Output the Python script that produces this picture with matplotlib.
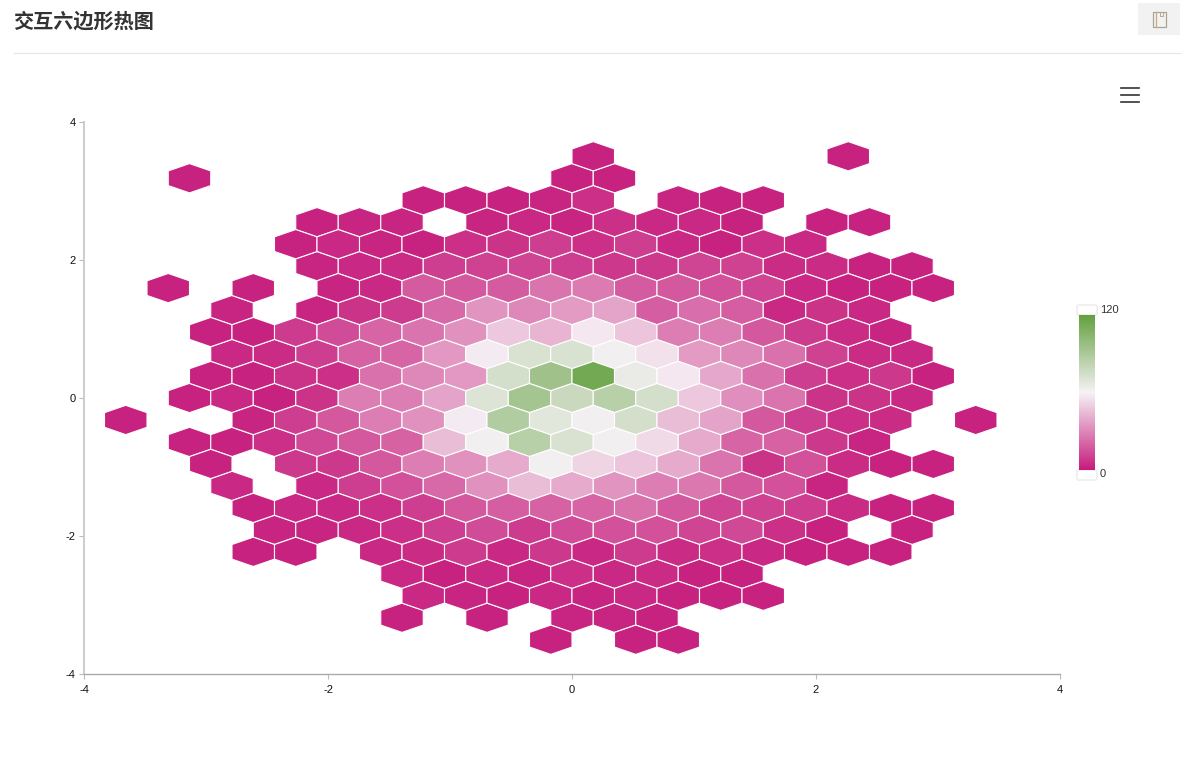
import matplotlib
matplotlib.use("Agg")
import matplotlib.pyplot as plt
from matplotlib.colors import LinearSegmentedColormap, Normalize
from matplotlib.patches import Rectangle, FancyBboxPatch
from matplotlib.lines import Line2D

W, H = 1203, 783

# row number counted up from y=0, first column of that row, then the bin counts (None = empty bin)
row_numbers = [11, 10, 9, 8, 7, 6, 5, 4, 3, 2, 1, 0, -1, -2, -3, -4, -5, -6, -7, -8, -9, -10, -11]
row_first_col = [0, -9, -4, -6, -7, -6, -10, -8, -9, -8, -9, -9, -11, -9, -9, -8, -8, -7, -8, -4, -4, -4, -1]
row_counts = [
    [2, None, None, None, None, None, 2],
    [2, None, None, None, None, None, None, None, None, 2, 2],
    [2, 2, 2, 3, 6, None, 3, 2, 2],
    [2, 3, 3, None, 3, 4, 3, 6, 4, 4, 2, None, 2, 2],
    [2, 4, 3, 2, 6, 7, 10, 6, 10, 4, 2, 6, 4],
    [3, 4, 5, 10, 11, 12, 10, 8, 8, 12, 11, 5, 5, 2, 2],
    [2, None, 2, None, 3, 4, 18, 17, 18, 25, 27, 18, 17, 15, 12, 4, 2, 2, 2],
    [3, None, 3, 7, 9, 22, 34, 30, 36, 38, 19, 23, 19, 4, 7, 4],
    [2, 2, 9, 14, 21, 25, 33, 48, 43, 57, 47, 28, 28, 17, 9, 5, 3],
    [4, 5, 10, 20, 21, 35, 58, 72, 72, 62, 55, 36, 30, 24, 11, 5, 4],
    [2, 2, 7, 6, 24, 30, 35, 74, 95, 113, 65, 57, 39, 24, 10, 6, 8, 2],
    [2, 4, 2, 7, 28, 28, 38, 70, 93, 78, 85, 74, 48, 32, 25, 7, 7, 4],
    [2, None, None, 3, 10, 17, 28, 33, 58, 88, 68, 62, 74, 45, 38, 17, 10, 6, 5, None, 2],
    [2, 2, 6, 13, 17, 20, 45, 62, 85, 72, 62, 53, 40, 21, 20, 8, 3],
    [2, None, 8, 8, 17, 28, 33, 40, 62, 52, 47, 40, 25, 7, 15, 5, 2, 2],
    [4, None, 4, 10, 15, 22, 33, 45, 40, 34, 28, 26, 17, 15, 3],
    [2, 4, 4, 6, 10, 17, 19, 20, 21, 24, 17, 12, 11, 10, 5, 2, 2],
    [3, 3, 4, 6, 10, 14, 9, 14, 15, 15, 12, 13, 6, 2, None, 2],
    [2, 2, None, 4, 5, 9, 4, 8, 4, 9, 5, 6, 4, 2, 2, 2],
    [4, 2, 4, 3, 6, 4, 5, 2, 2],
    [4, 3, 2, 4, 3, 4, 2, 2, 2],
    [2, None, 2, None, 3, 3, 2],
    [2, None, 2, 2],
]
x_ticks = [-4, -2, 0, 2, 4]
y_ticks = [-4, -2, 0, 2, 4]
count_range = [0, 120]

# bin size in data units
step_x = 42.5 / 122
step_y = 43.95 / 69

hex_x, hex_y, hex_c = [], [], []
for r, first, counts in zip(row_numbers, row_first_col, row_counts):
    for i, c in enumerate(counts):
        if c is None:
            continue
        hex_x.append((first + i + (0.5 if r % 2 else 0)) * step_x)
        hex_y.append(r * step_y / 2)
        hex_c.append(c)

cmap = LinearSegmentedColormap.from_list("pink_green", ["#c61b7c", "#f6f2f5", "#63a03e"])
norm = Normalize(count_range[0], count_range[1])


def px_rect(left, top, right, bottom):
    return [left / W, 1 - bottom / H, (right - left) / W, (bottom - top) / H]


fig = plt.figure(figsize=(W / 100, H / 100), dpi=100, facecolor="white")

# page parts around the chart, in pixel coordinates
page = fig.add_axes([0, 0, 1, 1])
page.set_xlim(0, W)
page.set_ylim(H, 0)
page.axis("off")
page.text(13.5, 21, "交互六边形热图", family=["Noto Sans CJK SC", "DejaVu Sans"], fontweight="bold",
          fontsize=14.5, color="#333333", va="center", ha="left")
page.add_line(Line2D([14, 1180], [52.5, 52.5], color="#e8e6dc", lw=0.8))
page.add_patch(Rectangle((1138, 3), 42, 32, fc="#f2f2f2", ec="none"))
page.add_patch(Rectangle((1153, 11.5), 13, 15.5, fc="none", ec="#a9a596", lw=0.9))
page.add_line(Line2D([1156, 1156], [12, 27], color="#d2a878", lw=0.9))
page.add_line(Line2D([1160, 1160, 1163, 1163], [12, 16, 16, 12], color="#b9a98a", lw=0.7))
for y in [88, 95, 102]:
    page.add_line(Line2D([1121, 1139], [y, y], color="#333333", lw=1.2))
for y in [310, 475]:
    page.add_patch(FancyBboxPatch((1079, y - 3), 16, 6, boxstyle="round,pad=2", fc="white", ec="#f0f0f0", lw=1.5))
page.text(1100, 310, "120", family="Liberation Sans", fontsize=8, color="#333333", va="center")
page.text(1100, 474, "0", family="Liberation Sans", fontsize=8, color="#333333", va="center")

ax = fig.add_axes(px_rect(84, 122, 1060, 674))
ax.patch.set_alpha(0)
ax.hexbin(hex_x, hex_y, C=hex_c, gridsize=(24, 12),
          extent=(-12 * step_x, 12 * step_x, -6 * step_y, 6 * step_y),
          cmap=cmap, norm=norm, edgecolors="white", linewidths=0.8)
ax.set_xlim(-4, 4)
ax.set_ylim(-4, 4)
ax.set_xticks(x_ticks)
ax.set_yticks(y_ticks)
ax.spines["top"].set_visible(False)
ax.spines["right"].set_visible(False)
ax.spines["left"].set_color("#c8c8c8")
ax.spines["left"].set_linewidth(1.3)
ax.spines["bottom"].set_color("#aaaaaa")
ax.spines["bottom"].set_linewidth(1)
ax.tick_params(length=3.6, width=0.8, color="#bbbbbb", labelsize=8, labelcolor="#111111")
ax.tick_params(axis="x", pad=4.2)
ax.tick_params(axis="y", pad=2.5)
for label in ax.get_xticklabels() + ax.get_yticklabels():
    label.set_family("Liberation Sans")
ax.xaxis.set_major_formatter(lambda v, pos: f"{v:g}")
ax.yaxis.set_major_formatter(lambda v, pos: f"{v:g}")

cax = fig.add_axes(px_rect(1079, 315, 1095, 470))
sm = plt.cm.ScalarMappable(norm=norm, cmap=cmap)
bar = fig.colorbar(sm, cax=cax)
bar.outline.set_visible(False)
bar.set_ticks([])

fig.savefig("out.png", dpi=100)
